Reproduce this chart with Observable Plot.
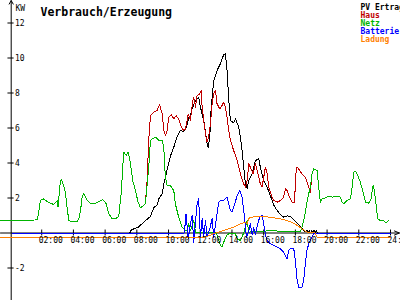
<!DOCTYPE html>
<html><head><meta charset="utf-8">
<script src="https://cdn.jsdelivr.net/npm/d3@7"></script>
<script src="https://cdn.jsdelivr.net/npm/@observablehq/plot@0.6"></script>
<style>html,body{margin:0;padding:0;background:#fff;overflow:hidden}</style>
</head><body><div id="chart"></div>
<script>
// ---- data (time in hours, values in kW) ----
const title = "Verbrauch/Erzeugung";
const unitLabel = "KW";
const seriesNames = ["PV Ertrag", "Haus", "Netz", "Batterie", "Ladung"];
const seriesColors = ["#000000", "#c00000", "#00b400", "#0000ff", "#ff8000"];
const xTicks = [2, 4, 6, 8, 10, 12, 14, 16, 18, 20, 22, 24];
const xTickLabels = ["02:00","04:00","06:00","08:00","10:00","12:00","14:00","16:00","18:00","20:00","22:00","24:00"];
const yTicks = [-2, 2, 4, 6, 8, 10, 12];

const netz = [[-0.6,0.72],[1.0,0.72],[1.73,0.75],[1.92,1.86],[2.13,1.95],[2.43,1.75],[2.76,1.63],[2.98,1.86],[3.03,1.47],[3.18,3.0],[3.25,3.04],[3.39,2.7],[3.50,2.26],[3.61,1.4],[3.71,0.71],[3.81,0.67],[4.26,0.67],[4.34,0.81],[4.45,1.29],[4.55,2.05],[4.65,2.27],[4.87,1.86],[5.08,1.7],[5.40,1.7],[5.85,1.9],[6.05,1.7],[6.13,1.47],[6.23,1.1],[6.44,0.81],[6.65,0.81],[6.86,0.94],[7.03,2.43],[7.11,3.76],[7.18,4.62],[7.33,4.43],[7.45,4.62],[7.55,4.24],[7.66,3.57],[7.74,3.0],[7.91,2.43],[8.08,1.76],[8.23,1.44],[8.44,1.57],[8.54,1.67],[8.75,3.76],[8.86,5.29],[8.97,5.38],[9.17,5.48],[9.38,5.29],[9.60,5.29],[9.70,4.9],[9.80,3.19],[9.91,2.71],[10.12,2.71],[10.33,2.43],[10.43,1.67],[10.64,0.9],[10.86,0.33],[11.07,0.14],[11.17,0.14],[11.27,0.52],[11.38,0.14],[11.59,0.71],[11.70,0.05],[12.5,0.05],[12.96,0.0],[13.06,-0.1],[13.27,-0.71],[13.38,-0.81],[13.48,-0.52],[13.69,-0.1],[13.90,0.0],[14.22,-0.05],[14.33,-0.33],[14.53,-0.43],[14.74,0.0],[14.96,0.71],[15.06,0.05],[15.5,0.1],[16.0,0.1],[16.5,0.15],[17.0,0.1],[18.0,0.1],[18.32,0.1],[18.42,0.33],[18.52,0.71],[18.63,1.19],[18.73,1.76],[18.84,2.24],[18.95,2.62],[19.05,3.38],[19.16,3.67],[19.37,3.57],[19.47,2.62],[19.58,1.76],[19.68,1.95],[19.89,2.01],[20.10,2.09],[20.32,2.05],[20.63,2.09],[20.84,2.05],[20.95,1.76],[21.05,1.67],[21.26,1.86],[21.47,1.95],[21.58,2.62],[21.68,3.48],[21.79,3.53],[21.93,3.29],[22.10,2.9],[22.27,2.33],[22.42,1.76],[22.62,1.7],[22.77,1.95],[22.90,2.71],[22.98,2.43],[23.11,1.47],[23.19,0.81],[23.36,0.71],[23.57,0.71],[23.68,0.62],[23.78,0.62],[23.88,0.71]];

const hausDay = [[8.65,3.0],[8.75,5.29],[8.86,6.71],[9.07,6.9],[9.28,7.0],[9.43,7.34],[9.60,6.81],[9.70,5.86],[9.80,5.57],[9.91,5.86],[10.01,6.62],[10.18,6.75],[10.33,6.52],[10.48,6.71],[10.64,6.52],[10.81,6.05],[10.96,5.86],[11.07,5.95],[11.24,6.8],[11.38,6.43],[11.53,7.57],[11.59,7.76],[11.70,7.19],[11.80,7.86],[11.97,7.95],[12.06,8.14],[12.12,7.19],[12.22,6.43],[12.33,5.67],[12.43,5.19],[12.53,5.48],[12.64,6.24],[12.75,7.38],[12.85,7.95],[12.96,8.14],[13.06,7.38],[13.23,7.1],[13.38,7.29],[13.48,7.48],[13.59,7.19],[13.69,6.62],[13.80,5.86],[13.90,5.29],[14.11,4.71],[14.33,4.14],[14.53,3.38],[14.74,2.81],[14.85,2.62],[14.96,3.0],[15.06,3.95],[15.16,3.76],[15.33,3.38],[15.48,3.95],[15.59,3.57],[15.79,2.81],[15.90,2.62],[16.11,3.76],[16.22,3.38],[16.32,2.62],[16.53,2.05],[16.63,1.86],[16.85,1.76],[17.06,1.86],[17.26,2.05],[17.37,2.52],[17.48,2.43],[17.58,2.14],[17.69,1.95],[17.79,1.76],[17.94,1.76],[18.06,3.76],[18.15,3.76],[18.32,3.48],[18.52,3.29],[18.63,3.19],[18.73,2.9],[18.84,2.62],[18.95,2.33],[19.05,3.38]];

const pv = [[7.5,0.0],[7.55,0.0],[7.66,0.18],[8.08,0.33],[8.44,0.62],[8.86,0.95],[9.07,1.45],[9.28,1.6],[9.38,1.95],[9.60,2.24],[9.70,2.81],[9.91,3.6],[10.12,4.4],[10.33,4.9],[10.54,5.48],[10.75,5.86],[10.96,5.8],[11.07,5.95],[11.17,6.2],[11.27,6.6],[11.38,6.71],[11.49,7.1],[11.70,7.57],[11.90,7.76],[12.01,7.19],[12.22,6.43],[12.43,5.1],[12.50,4.9],[12.60,5.48],[12.69,7.19],[12.85,8.71],[13.06,9.29],[13.27,9.67],[13.48,10.2],[13.59,10.24],[13.69,9.29],[13.80,7.57],[13.90,6.43],[14.11,6.3],[14.22,6.52],[14.43,6.05],[14.53,5.48],[14.64,4.71],[14.74,3.76],[14.85,2.81],[14.96,2.52],[15.06,3.0],[15.27,3.38],[15.48,4.14],[15.69,4.24],[15.79,3.76],[16.00,3.0],[16.22,2.62],[16.42,2.14],[16.63,1.6],[16.85,1.29],[17.06,1.06],[17.26,0.9],[17.48,0.98],[17.69,0.94],[17.90,0.75],[18.11,0.56],[18.32,0.37],[18.52,0.14],[18.63,0.08],[18.73,0.15],[18.80,0.0],[18.88,0.15],[18.95,0.0],[19.03,0.15],[19.10,0.0],[19.18,0.15],[19.25,0.0],[19.32,0.12],[19.40,0.0]];

const batterie = [[0.1,0],[11.0,0],[11.1,1.1],[11.24,-0.33],[11.38,0.5],[11.49,1.0],[11.59,-0.52],[11.80,1.67],[11.90,1.95],[12.01,-0.24],[12.12,0.81],[12.22,-0.2],[12.33,0.71],[12.43,-0.2],[12.60,0.24],[12.75,0.81],[12.85,-0.24],[13.06,1.1],[13.17,1.76],[13.27,1.86],[13.48,1.86],[13.69,2.05],[13.90,1.29],[14.01,1.19],[14.11,1.48],[14.33,2.14],[14.49,2.43],[14.64,2.05],[14.79,0.9],[14.91,-0.24],[15.06,0.1],[15.16,0.52],[15.27,-0.1],[15.37,0.3],[15.48,-0.1],[15.62,0.52],[15.75,0.9],[15.90,1.0],[16.00,0.52],[16.11,-0.1],[16.22,-0.43],[16.42,-0.62],[16.85,-0.81],[17.06,-0.9],[17.26,-1.1],[17.37,-1.29],[17.48,-1.48],[17.58,-1.0],[17.69,-0.9],[17.90,-0.9],[18.00,-1.57],[18.11,-2.71],[18.21,-3.1],[18.42,-3.1],[18.52,-2.71],[18.63,-1.76],[18.73,-1.0],[18.84,-0.62],[19.05,-0.24],[19.16,0],[24.0,0]];

const ladung = [[-0.6,-0.27],[12.2,-0.27],[12.85,-0.05],[13.48,0.14],[14.11,0.33],[14.53,0.52],[14.85,0.62],[14.96,0.52],[15.06,0.81],[15.16,0.9],[15.59,0.94],[16.22,0.92],[16.42,0.9],[16.85,0.83],[17.06,0.81],[17.48,0.71],[17.90,0.56],[18.32,0.3],[18.73,0.05],[19.26,0.0],[19.37,-0.25],[24.0,-0.25]];

const haus = [...netz.filter(([t]) => t < 8.6), ...hausDay, ...netz.filter(([t]) => t > 19.1)];

const rows = (arr, name) => arr.map(([t, v]) => ({t, v, name}));
const series = [pv, haus, netz, batterie, ladung];

const lineMarks = series.map((s, i) =>
  Plot.line(rows(s, seriesNames[i]), {x: "t", y: "v", stroke: seriesColors[i], strokeWidth: 1, shapeRendering: "crispEdges"})
);

const chart = Plot.plot({
  width: 400, height: 300,
  marginLeft: 9.5, marginRight: 10, marginTop: 22.5, marginBottom: 32.5,
  x: {domain: [0, 24], axis: null},
  y: {domain: [-2, 12], axis: null},
  style: {fontFamily: "'DejaVu Sans Mono', monospace", fontSize: "8px", background: "#fff", color: "#000"},
  marks: [
    // axes
    Plot.arrow([0], {x1: -0.6, x2: 24.56, y1: 0, y2: 0, stroke: "#000", strokeWidth: 1, headLength: 8, headAngle: 45}),
    Plot.arrow([0], {x1: 0, x2: 0, y1: -3.86, y2: 13.28, dx: 1.2, stroke: "#000", strokeWidth: 1, headLength: 6, headAngle: 60}),
    Plot.ruleX(xTicks, {x: d => d, y1: -0.17, y2: 0.17, stroke: "#000"}),
    Plot.ruleY(yTicks, {y: d => d, x1: -0.13, x2: 0.26, stroke: "#000"}),
    ...lineMarks,
    Plot.text(xTicks, {x: d => d, y: 0, text: (d, i) => xTickLabels[i], dx: -3, dy: 7, textAnchor: "start", fill: "#000"}),
    Plot.text(yTicks, {x: 0, y: d => d, text: d => String(d), dx: 5, textAnchor: "start", fill: "#000"}),
    Plot.text([unitLabel], {frameAnchor: "top-left", text: d => d, dx: 5.5, dy: -17.5, textAnchor: "start", fill: "#000"}),
    Plot.text([title], {frameAnchor: "top-left", text: d => d, dx: 30.5, dy: -15, textAnchor: "start", fontSize: 11.5, fontWeight: "bold", fill: "#000"}),
    ...seriesNames.map((n, i) => Plot.text([n], {frameAnchor: "top-right", text: d => d, dx: -30, dy: -18.5 + 8 * i, textAnchor: "start", fontWeight: "bold", fill: seriesColors[i]}))
  ]
});
document.getElementById("chart").appendChild(chart);
</script>
</body></html>
